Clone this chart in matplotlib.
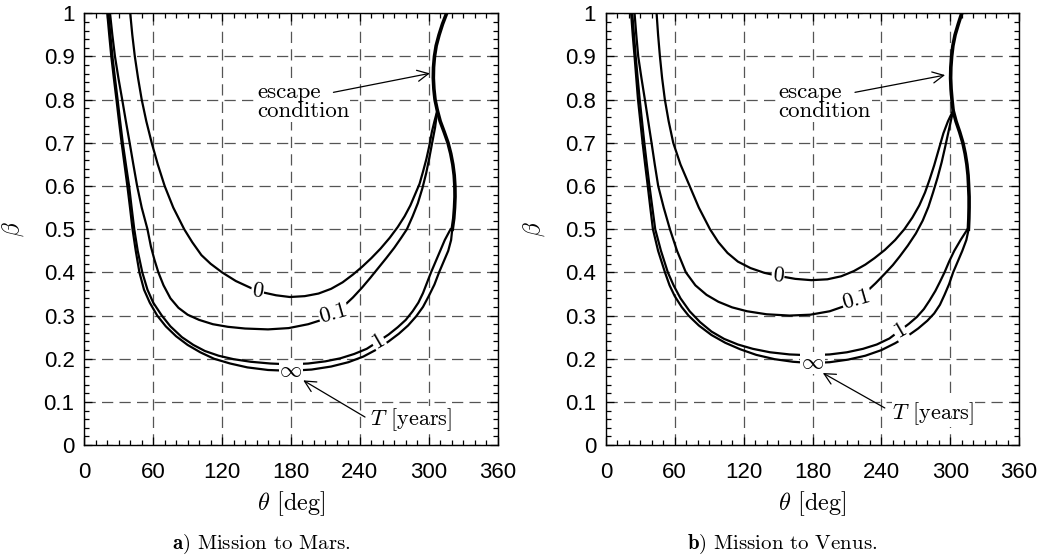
import numpy as np
import matplotlib
matplotlib.use('Agg')
import matplotlib.pyplot as plt
from matplotlib.ticker import MultipleLocator

plt.rcParams['mathtext.fontset'] = 'cm'
plt.rcParams['font.family'] = ['Liberation Sans', 'DejaVu Sans']

# ---- a) Mission to Mars: contour lines of T [years] in (theta, beta) ----
mars_T0_theta = [40, 41.8, 44, 46.8, 50, 54, 58.7, 64, 70, 77.5, 87, 94, 102, 110, 120, 132, 145,
                 155, 167, 179, 192, 204, 215, 225, 234, 242, 250, 258, 266, 273, 279, 284, 288,
                 292, 295, 298, 300.5, 302.7, 305, 307.5]
mars_T0_beta = [1.0, 0.95, 0.9, 0.85, 0.8, 0.75, 0.7, 0.65, 0.6, 0.55, 0.5, 0.47, 0.44, 0.42, 0.4,
                0.38, 0.364, 0.354, 0.347, 0.343, 0.345, 0.351, 0.362, 0.377, 0.395, 0.413, 0.433,
                0.455, 0.48, 0.505, 0.53, 0.555, 0.58, 0.605, 0.633, 0.663, 0.693, 0.725, 0.75, 0.775]

mars_T01_theta = [22.4, 24.4, 26.7, 29.7, 33, 36.2, 39.5, 42.7, 46, 50, 55, 58, 61, 64.5, 69, 75,
                  82, 90, 100, 112, 125, 140, 160, 178, 195, 208, 217, 226, 234, 242, 249, 256,
                  263, 270, 276, 281, 286, 290.5, 294.5, 297.8, 300.5, 303, 305.5, 307.5]
mars_T01_beta = [1.0, 0.95, 0.9, 0.85, 0.8, 0.75, 0.7, 0.65, 0.6, 0.55, 0.5, 0.46, 0.43, 0.4, 0.37,
                 0.34, 0.318, 0.302, 0.29, 0.28, 0.274, 0.27, 0.268, 0.271, 0.28, 0.291, 0.303,
                 0.322, 0.342, 0.365, 0.387, 0.41, 0.433, 0.457, 0.48, 0.5, 0.53, 0.56, 0.595,
                 0.63, 0.665, 0.7, 0.735, 0.775]

mars_T1_theta = [21, 22.7, 24.5, 26.7, 29, 31.2, 33.5, 36.2, 39, 41.2, 43.5, 46.5, 50.5, 55, 60,
                 67.5, 75, 85, 95, 105, 117, 130, 145, 162, 179, 195, 210, 223, 235, 246, 256,
                 265, 273, 280, 286, 291, 295, 298.5, 302, 306, 310, 314, 319]
mars_T1_beta = [1.0, 0.95, 0.9, 0.85, 0.8, 0.75, 0.7, 0.65, 0.6, 0.55, 0.5, 0.45, 0.4, 0.36, 0.33,
                0.3, 0.275, 0.25, 0.232, 0.218, 0.207, 0.199, 0.193, 0.189, 0.187, 0.189, 0.194,
                0.201, 0.211, 0.223, 0.24, 0.256, 0.273, 0.29, 0.31, 0.33, 0.352, 0.376, 0.4,
                0.425, 0.45, 0.475, 0.5]

mars_Tinf_theta = [20, 21.7, 23.5, 25.7, 28, 30.2, 32.5, 35, 37.5, 39.8, 42, 44.8, 48, 52, 57,
                   63.5, 71, 80, 90, 101, 113, 127, 142, 160, 179, 198, 215, 230, 243, 255, 265,
                   274, 282, 289, 295, 300, 305, 309, 313, 317, 319.5, 320.5]
mars_Tinf_beta = [1.0, 0.95, 0.9, 0.85, 0.8, 0.75, 0.7, 0.65, 0.6, 0.55, 0.5, 0.45, 0.4, 0.36,
                  0.33, 0.3, 0.275, 0.252, 0.232, 0.215, 0.2, 0.189, 0.18, 0.174, 0.172, 0.175,
                  0.182, 0.192, 0.205, 0.222, 0.24, 0.258, 0.277, 0.298, 0.32, 0.345, 0.372, 0.4,
                  0.425, 0.45, 0.475, 0.5]

mars_escape_theta = [315.6, 312, 309, 306.5, 305, 304.2, 304, 304.5, 305.5, 307.5, 310, 313.5,
                     316.8, 319.2, 321, 322.2, 322.8, 322.9, 322.5, 321.8, 320.5]
mars_escape_beta = [1.0, 0.975, 0.95, 0.925, 0.9, 0.875, 0.85, 0.825, 0.8, 0.775, 0.75, 0.725,
                    0.7, 0.675, 0.65, 0.625, 0.6, 0.575, 0.55, 0.525, 0.5]

# ---- b) Mission to Venus ----
venus_T0_theta = [44.2, 45.5, 47.1, 49, 51.4, 54.7, 58.7, 65, 73, 81, 90.7, 98, 106, 115, 126,
                  138, 150, 165, 179, 193, 205, 216, 226, 234, 243, 252, 260, 267, 273, 278,
                  282, 286, 290, 294, 298, 302.5]
venus_T0_beta = [1.0, 0.95, 0.9, 0.85, 0.8, 0.75, 0.7, 0.65, 0.6, 0.55, 0.5, 0.47, 0.445, 0.425,
                 0.41, 0.399, 0.392, 0.385, 0.382, 0.384, 0.391, 0.403, 0.418, 0.433, 0.452,
                 0.475, 0.5, 0.527, 0.555, 0.585, 0.615, 0.648, 0.685, 0.722, 0.75, 0.775]

venus_T01_theta = [25, 26.5, 28.2, 31, 34, 36.9, 39.8, 42.6, 45.6, 50.4, 55.8, 62, 69.7, 78,
                   87.7, 98, 110, 123, 140, 160, 178, 195, 208, 218.5, 227, 235, 243, 250, 256,
                   263, 270, 276, 281, 285, 289, 292.5, 295.5, 298.8, 302.5]
venus_T01_beta = [1.0, 0.95, 0.9, 0.85, 0.8, 0.75, 0.7, 0.65, 0.6, 0.55, 0.5, 0.45, 0.4, 0.37,
                  0.348, 0.332, 0.319, 0.31, 0.303, 0.3, 0.302, 0.31, 0.322, 0.338, 0.355, 0.375,
                  0.397, 0.417, 0.437, 0.462, 0.49, 0.52, 0.552, 0.585, 0.62, 0.655, 0.69, 0.73,
                  0.775]

venus_T1_theta = [23, 24.5, 26, 27.7, 29.5, 31.5, 33.5, 35.7, 38, 40.5, 43, 48, 54, 59, 65, 73,
                  82, 92, 103, 115, 128, 143, 160, 178, 195, 210, 224, 236, 247, 256, 264, 271,
                  277, 282, 287, 291, 295, 299, 303.5, 309, 315]
venus_T1_beta = [1.0, 0.95, 0.9, 0.85, 0.8, 0.75, 0.7, 0.65, 0.6, 0.55, 0.5, 0.45, 0.4, 0.37,
                 0.34, 0.31, 0.285, 0.263, 0.246, 0.233, 0.223, 0.215, 0.21, 0.208, 0.21, 0.215,
                 0.223, 0.233, 0.247, 0.265, 0.281, 0.297, 0.315, 0.335, 0.357, 0.378, 0.4,
                 0.425, 0.45, 0.475, 0.5]

venus_Tinf_theta = [22, 23.4, 25, 26.5, 28, 30, 32, 34.2, 36.5, 38.7, 41, 45.5, 51.5, 55.5, 60,
                    66, 72, 81, 92, 104, 117, 131, 147, 163, 179, 195, 211, 226, 240, 252, 263,
                    272, 280, 286, 291, 295, 299, 302.5, 306.5, 310.5, 314, 316]
venus_Tinf_beta = [1.0, 0.95, 0.9, 0.85, 0.8, 0.75, 0.7, 0.65, 0.6, 0.55, 0.5, 0.45, 0.4, 0.37,
                   0.345, 0.32, 0.3, 0.277, 0.255, 0.237, 0.222, 0.209, 0.199, 0.193, 0.19,
                   0.192, 0.198, 0.207, 0.22, 0.236, 0.253, 0.27, 0.288, 0.305, 0.325, 0.348,
                   0.373, 0.4, 0.425, 0.45, 0.475, 0.5]

venus_escape_theta = [310, 307, 304.2, 302.3, 301.2, 300.5, 300.3, 300.7, 301.5, 302.5, 305, 308.2,
                      311, 313, 314.5, 315.5, 316, 316.4, 316.4, 316.2, 315.8]
venus_escape_beta = [1.0, 0.975, 0.95, 0.925, 0.9, 0.875, 0.85, 0.825, 0.8, 0.775, 0.75, 0.725,
                     0.7, 0.675, 0.65, 0.625, 0.6, 0.575, 0.55, 0.525, 0.5]

SERIF = 'cmr10'


def draw_panel(ax, curves, escape, labels, esc_text, esc_arrow, t_text, t_arrow):
    for th, b in curves:
        ax.plot(th, b, color='black', lw=1.6, solid_joinstyle='round', zorder=3)
    ax.plot(escape[0], escape[1], color='black', lw=2.6, solid_joinstyle='round', zorder=3)

    # contour labels with white background (clabel style)
    for txt, x, y, rot in labels:
        ax.text(x, y, txt, family=SERIF, fontsize=16, ha='center', va='center',
                rotation=rot, rotation_mode='anchor', zorder=4,
                bbox=dict(fc='white', ec='none', pad=0.6))

    ax.text(esc_text[0], esc_text[1], 'escape\ncondition', family=SERIF, fontsize=16.5,
            ha='left', va='center', linespacing=0.95, zorder=4,
            bbox=dict(fc='white', ec='none', pad=0.5))
    ax.annotate('', xy=esc_arrow[1], xytext=esc_arrow[0],
                arrowprops=dict(arrowstyle='->', lw=0.9, color='black',
                                shrinkA=0, shrinkB=0, mutation_scale=20), zorder=5)
    ax.text(t_text[0], t_text[1], r'$T$ [years]', family=SERIF, fontsize=16,
            ha='left', va='center', zorder=4,
            bbox=dict(fc='white', ec='none', pad=0.5))
    ax.annotate('', xy=t_arrow[1], xytext=t_arrow[0],
                arrowprops=dict(arrowstyle='->', lw=0.9, color='black',
                                shrinkA=0, shrinkB=0, mutation_scale=20), zorder=5)

    ax.set_xlim(0, 360)
    ax.set_ylim(0, 1)
    ax.xaxis.set_major_locator(MultipleLocator(60))
    ax.xaxis.set_minor_locator(MultipleLocator(10))
    ax.yaxis.set_minor_locator(MultipleLocator(0.02))
    ax.set_yticks(np.arange(0, 1.01, 0.1))
    ax.set_yticklabels(['0', '0.1', '0.2', '0.3', '0.4', '0.5', '0.6', '0.7', '0.8', '0.9', '1'])
    ax.tick_params(which='both', direction='in', top=True, right=True, labelsize=16,
                   color='black', width=0.9)
    ax.tick_params(which='major', length=6)
    ax.tick_params(which='minor', length=3.5)
    ax.tick_params(axis='x', pad=12)
    ax.tick_params(axis='y', pad=7)
    ax.grid(True, which='major', color='#555555', lw=0.9, ls=(0, (9, 5)))
    ax.set_axisbelow(True)
    for s in ax.spines.values():
        s.set_linewidth(1.0)
    ax.set_xlabel(r'$\theta$ [deg]', family=SERIF, fontsize=17.5, labelpad=5)
    ax.set_ylabel(r'$\beta$', fontsize=17)
    ax.yaxis.set_label_coords(-0.142, 0.5)


fig = plt.figure(figsize=(10.41, 5.55), dpi=100)
ax1 = fig.add_axes([0.081, 0.198, 0.397, 0.778])
ax2 = fig.add_axes([0.582, 0.198, 0.397, 0.778])

draw_panel(ax1,
           [(mars_T0_theta, mars_T0_beta), (mars_T01_theta, mars_T01_beta),
            (mars_T1_theta, mars_T1_beta), (mars_Tinf_theta, mars_Tinf_beta)],
           (mars_escape_theta, mars_escape_beta),
           [('0', 151, 0.357, -8), ('0.1', 217, 0.305, 16), ('1', 256, 0.241, 30),
            (r'$\infty$', 180, 0.171, 0)],
           (150.5, 0.795), ((217, 0.817), (301, 0.861)),
           (249, 0.058), ((244.5, 0.065), (190.7, 0.15)))

draw_panel(ax2,
           [(venus_T0_theta, venus_T0_beta), (venus_T01_theta, venus_T01_beta),
            (venus_T1_theta, venus_T1_beta), (venus_Tinf_theta, venus_Tinf_beta)],
           (venus_escape_theta, venus_escape_beta),
           [('0', 150, 0.393, -5), ('0.1', 218.5, 0.338, 16), ('1', 256, 0.265, 30),
            (r'$\infty$', 180, 0.19, 0)],
           (150.5, 0.795), ((217, 0.817), (295.5, 0.857)),
           (249.4, 0.074), ((243, 0.086), (189, 0.167)))

fig.text(0.251, 0.011, r'$\mathbf{a)}$ Mission to Mars.', family=SERIF, fontsize=15,
         ha='center', va='baseline')
fig.text(0.751, 0.011, r'$\mathbf{b)}$ Mission to Venus.', family=SERIF, fontsize=15,
         ha='center', va='baseline')

fig.savefig('out.png', dpi=100)
